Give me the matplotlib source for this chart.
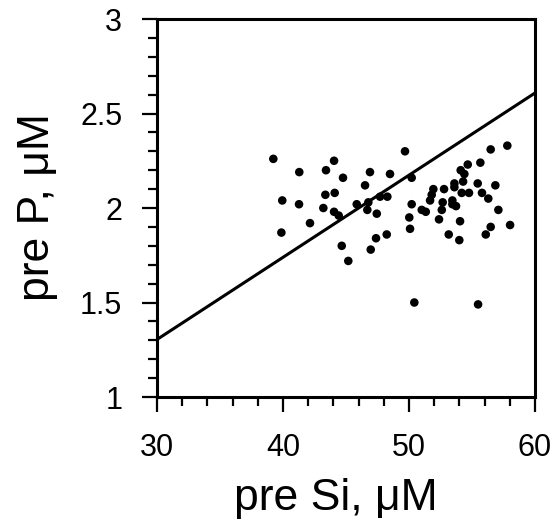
import numpy as np
import matplotlib
matplotlib.use("Agg")
import matplotlib.pyplot as plt
from matplotlib.ticker import MultipleLocator

plt.rcParams['font.family'] = ['Liberation Sans', 'DejaVu Sans']

# pre Si vs pre P (uM)
pre_si = [39.23, 41.29, 44.05, 43.41, 44.76, 43.36, 44.10, 39.94, 41.27, 43.20,
          44.05, 44.42, 42.14, 39.87, 44.66, 45.18, 49.68, 46.90, 48.49, 46.51,
          50.21, 47.70, 48.28, 45.85, 46.77, 50.21, 46.69, 47.44, 50.02, 50.08,
          48.23, 47.38, 46.96, 56.48, 57.80, 55.66, 54.66, 54.10, 54.39, 54.29,
          55.45, 56.85, 53.60, 51.93, 52.78, 53.60, 54.18, 54.76, 55.79, 51.80,
          51.67, 52.67, 53.44, 56.29, 53.73, 53.44, 51.01, 51.33, 52.60, 57.09,
          52.38, 54.05, 58.02, 56.48, 53.15, 56.09, 53.99, 50.42, 55.48]
pre_p = [2.26, 2.19, 2.25, 2.20, 2.16, 2.07, 2.08, 2.04, 2.02, 2.00,
         1.98, 1.96, 1.92, 1.87, 1.80, 1.72, 2.30, 2.19, 2.18, 2.12,
         2.16, 2.06, 2.06, 2.02, 2.03, 2.02, 1.99, 1.97, 1.95, 1.89,
         1.86, 1.84, 1.78, 2.31, 2.33, 2.24, 2.23, 2.20, 2.18, 2.14,
         2.13, 2.12, 2.13, 2.10, 2.10, 2.11, 2.08, 2.08, 2.08, 2.07,
         2.04, 2.03, 2.04, 2.05, 2.01, 2.02, 1.99, 1.98, 1.99, 1.99,
         1.94, 1.93, 1.91, 1.90, 1.86, 1.86, 1.83, 1.50, 1.49]

# reference line (Si:P = 23:1)
line_x = [30, 60]
line_y = [30 / 23, 60 / 23]

fig = plt.figure(figsize=(5.56, 5.21), dpi=100)
ax = fig.add_axes([0.2824, 0.238, 0.6799, 0.7255])

ax.plot(line_x, line_y, color='black', lw=2.2, solid_capstyle='butt')
ax.scatter(pre_si, pre_p, s=38, color='black', edgecolors='none', zorder=3)

ax.set_xlim(30, 60)
ax.set_ylim(1, 3)
ax.xaxis.set_major_locator(MultipleLocator(10))
ax.xaxis.set_minor_locator(MultipleLocator(2))
ax.yaxis.set_major_locator(MultipleLocator(0.5))
ax.yaxis.set_minor_locator(MultipleLocator(0.1))
ax.set_yticks([1, 1.5, 2, 2.5, 3])
ax.set_yticklabels(['1', '1.5', '2', '2.5', '3'])

for sp in ax.spines.values():
    sp.set_linewidth(2.2)
ax.tick_params(which='major', direction='out', length=11, width=1.6,
               labelsize=22)
ax.tick_params(which='minor', direction='out', length=6.5, width=1.6)
ax.tick_params(axis='x', which='major', pad=15)
ax.tick_params(axis='y', which='major', pad=14)

fig.text(336 / 556, 1 - 510 / 521, 'pre Si, μM', fontsize=32,
         ha='center', va='baseline')
fig.text(38 / 556, 1 - 207 / 521, 'pre P, μM', fontsize=32,
         ha='center', va='center', rotation=90)

fig.savefig('out.png', dpi=100)
